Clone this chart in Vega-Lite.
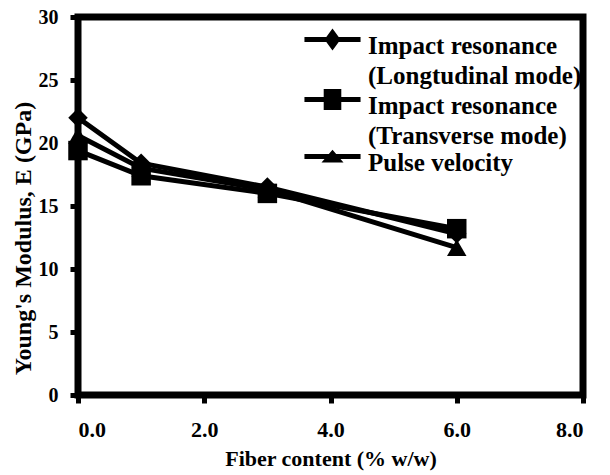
{
  "$schema": "https://vega.github.io/schema/vega-lite/v6.json",
  "width": 505,
  "height": 378,
  "autosize": "none",
  "padding": {"left": 78, "top": 17, "right": 27, "bottom": 80},
  "background": "white",
  "config": {
    "font": "Liberation Serif",
    "view": {"stroke": null},
    "style": {"guide-label": {"font": "Liberation Serif", "lineHeight": 30}},
    "legend": {"labelFont": "Liberation Serif", "labelFontWeight": "bold"},
    "axis": {"grid": false, "labelFont": "Liberation Serif", "labelFontWeight": "bold", "labelFontSize": 20, "labelColor": "black", "titleFont": "Liberation Serif", "titleFontWeight": "bold", "titleFontSize": 22, "titleColor": "black"}
  },
  "data": {"values": [
    {"x": 0, "E": 22.0, "s": "L"},
    {"x": 1, "E": 18.4, "s": "L"},
    {"x": 3, "E": 16.5, "s": "L"},
    {"x": 6, "E": 12.8, "s": "L"},
    {"x": 0, "E": 19.4, "s": "T"},
    {"x": 1, "E": 17.4, "s": "T"},
    {"x": 3, "E": 16.0, "s": "T"},
    {"x": 6, "E": 13.2, "s": "T"},
    {"x": 0, "E": 20.6, "s": "P"},
    {"x": 1, "E": 18.0, "s": "P"},
    {"x": 3, "E": 16.3, "s": "P"},
    {"x": 6, "E": 11.7, "s": "P"}
  ]},
  "layer": [
    {"mark": {"type": "line", "color": "black", "strokeWidth": 5},
     "encoding": {
       "x": {"field": "x", "type": "quantitative", "scale": {"domain": [0, 8], "nice": false, "zero": false}, "axis": {"values": [0, 2, 4, 6, 8], "format": ".1f", "title": "Fiber content (% w/w)", "labelFontSize": 22, "labelPadding": 16, "titlePadding": 8, "domain": false, "ticks": true, "tickColor": "black", "tickWidth": 5, "tickSize": 8}},
       "y": {"field": "E", "type": "quantitative", "scale": {"domain": [0, 30], "nice": false}, "axis": {"values": [0, 5, 10, 15, 20, 25, 30], "title": "Young's Modulus, E (GPa)", "titleFontSize": 24, "labelPadding": 12, "titlePadding": 3, "titleY": 221, "domain": false, "ticks": true, "tickColor": "black", "tickWidth": 5, "tickSize": 8}},
       "detail": {"field": "s"}
     }},
    {"data": {"values": [{"frame": "plot"}]},
     "mark": {"type": "rect", "color": "black", "filled": false, "strokeWidth": 7},
     "encoding": {
       "x": {"datum": 0, "type": "quantitative", "axis": null},
       "x2": {"datum": 8},
       "y": {"datum": 0, "type": "quantitative", "axis": null},
       "y2": {"datum": 30}
     }},
    {"mark": {"type": "point", "filled": true, "color": "black", "opacity": 1, "size": 380},
     "encoding": {
       "x": {"field": "x", "type": "quantitative", "axis": null},
       "y": {"field": "E", "type": "quantitative", "axis": null},
       "shape": {"field": "s", "type": "nominal", "scale": {"domain": ["L", "T", "P"], "range": ["diamond", "square", "triangle-up"]}, "legend": null}
     }},
    {"mark": {"type": "point", "filled": true, "color": "black", "opacity": 0, "size": 10},
     "encoding": {
       "x": {"field": "x", "type": "quantitative", "axis": null},
       "y": {"field": "E", "type": "quantitative", "axis": null},
       "shape": {"field": "s", "type": "nominal",
         "scale": {"domain": ["L", "T", "P"], "range": [
           "M-2.55,-0.78L2.55,-0.78L2.55,-0.32L-2.55,-0.32Z M0,-1.55L0.73,-0.55L0,0.45L-0.73,-0.55Z",
           "M-2.55,-0.78L2.55,-0.78L2.55,-0.32L-2.55,-0.32Z M-0.8,-1.5L0.8,-1.5L0.8,0.4L-0.8,0.4Z",
           "M-2.55,-0.78L2.55,-0.78L2.55,-0.32L-2.55,-0.32Z M0,-1.15L1,0L-1,0Z"
         ]},
         "legend": {
           "title": null, "orient": "none", "legendX": 242, "legendY": 16,
           "symbolSize": 484, "symbolFillColor": "black", "symbolStrokeColor": "black", "symbolStrokeWidth": 0, "symbolOpacity": 1,
           "labelFont": "Liberation Serif", "labelFontWeight": "bold", "labelFontSize": 25, "labelColor": "black", "labelLimit": 400,
           "labelOffset": 23, "rowPadding": 0, "padding": 0,
           "labelExpr": "datum.value == 'L' ? ['Impact resonance', '(Longtudinal mode)'] : datum.value == 'T' ? ['Impact resonance', '(Transverse mode)'] : 'Pulse velocity'"
         }}
     }}
  ],
  "resolve": {"axis": {"x": "independent", "y": "independent"}, "scale": {"shape": "independent"}}
}
